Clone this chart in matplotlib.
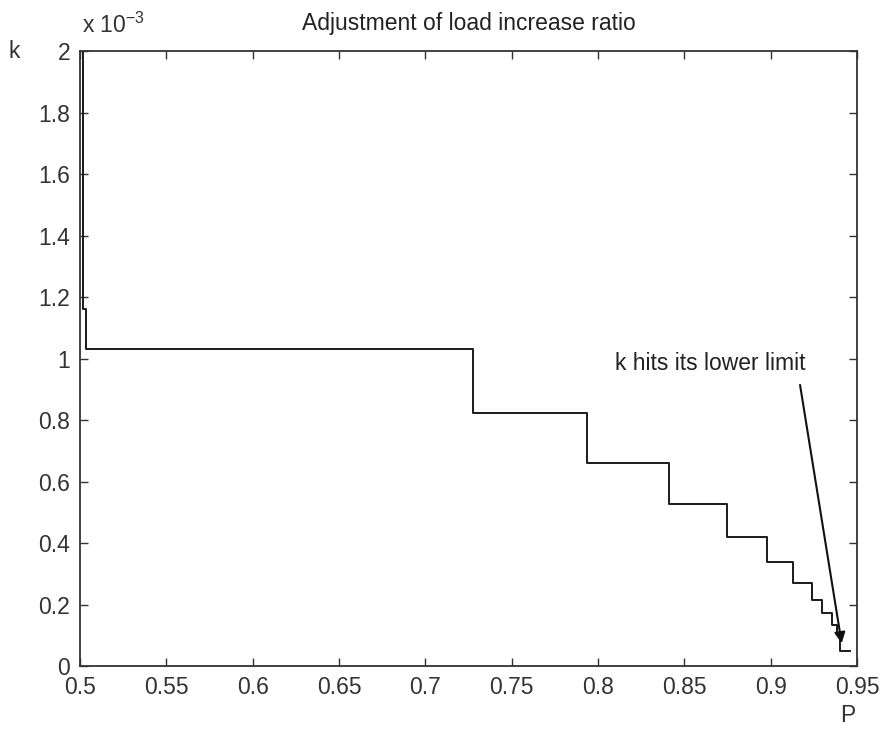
import matplotlib
matplotlib.use('Agg')
import matplotlib.pyplot as plt

plt.rcParams['font.family'] = ['Liberation Sans', 'DejaVu Sans']

# k in units of 1e-3, step curve
p_start = 0.5019
p_drop = [0.5019, 0.5035, 0.7274, 0.7934, 0.8413, 0.8749, 0.8977,
          0.9131, 0.9237, 0.9295, 0.9353, 0.9382, 0.9401]
k_level = [2.1, 1.16, 1.03, 0.824, 0.659, 0.527, 0.418, 0.337,
           0.269, 0.215, 0.171, 0.133, 0.106, 0.048]
p_end = 0.9458

xticks = [0.5, 0.55, 0.6, 0.65, 0.7, 0.75, 0.8, 0.85, 0.9, 0.95]
xlabels = ['0.5', '0.55', '0.6', '0.65', '0.7', '0.75', '0.8', '0.85', '0.9', '0.95']
yticks = [0, 0.2, 0.4, 0.6, 0.8, 1.0, 1.2, 1.4, 1.6, 1.8, 2.0]
ylabels = ['0', '0.2', '0.4', '0.6', '0.8', '1', '1.2', '1.4', '1.6', '1.8', '2']

fs = 16.5

fig = plt.figure(figsize=(8.85, 7.31), dpi=100)
ax = fig.add_axes([0.0904, 0.0889, 0.878, 0.8413])

xs = [p_start] + p_drop + [p_end]
ys = k_level + [k_level[-1]]
ax.step(xs, ys, where='post', color='#1a1a1a', lw=1.4)

ax.set_xlim(0.5, 0.95)
ax.set_ylim(0, 2.0)
ax.set_xticks(xticks)
ax.set_xticklabels(xlabels)
ax.set_yticks(yticks)
ax.set_yticklabels(ylabels)
ax.tick_params(direction='in', top=True, right=True, length=6, width=1,
               labelsize=fs, colors='#333333', pad=7)
for s in ax.spines.values():
    s.set_linewidth(1.3)
    s.set_color('#333333')

ax.set_title('Adjustment of load increase ratio', fontsize=fs, pad=15, color='#222222')
ax.text(0.003, 1.022, r'x 10$^{\mathregular{-3}}$', transform=ax.transAxes,
        fontsize=fs, ha='left', va='bottom', color='#333333')
ax.text(-0.085, 1.0, 'k', transform=ax.transAxes, fontsize=fs,
        ha='center', va='center', color='#333333')
ax.text(0.988, -0.081, 'P', transform=ax.transAxes, fontsize=fs,
        ha='center', va='center', color='#333333')

ax.text(0.865, 0.985, 'k hits its lower limit', fontsize=fs, color='#222222',
        ha='center', va='center')
ax.annotate('', xy=(0.9411, 0.074), xytext=(0.917, 0.914),
            xycoords='data', textcoords='data',
            arrowprops=dict(arrowstyle='-|>', color='#111111', lw=1.5,
                            mutation_scale=16, shrinkA=0, shrinkB=0))

fig.savefig('out.png', dpi=100)
